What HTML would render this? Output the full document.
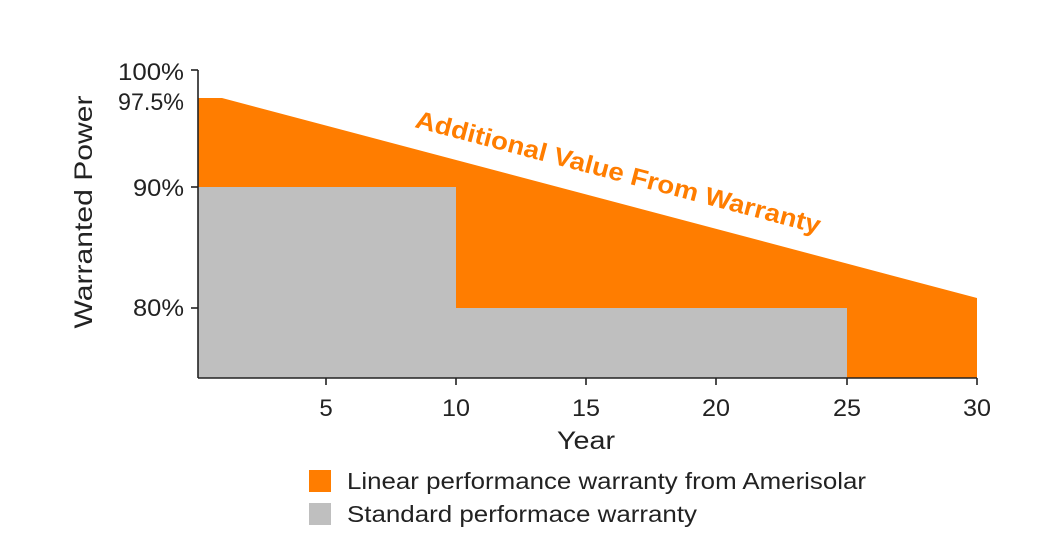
<!DOCTYPE html>
<html><head><meta charset="utf-8"><style>
html,body{margin:0;padding:0;background:#fff;}
svg{display:block;font-family:"Liberation Sans",Arial,sans-serif;}
</style></head><body>
<svg width="1050" height="550" viewBox="0 0 1050 550">
<polygon points="198,98 222,98 977,298 977,378 198,378" fill="#ff7d00"/>
<polygon points="198,187 456,187 456,308 847,308 847,378 198,378" fill="#bfbfbf"/>
<g stroke="#222" stroke-width="1.6" fill="none">
<line x1="198" y1="70" x2="198" y2="378"/>
<line x1="198" y1="378" x2="977" y2="378"/>
<line x1="191" y1="70" x2="198" y2="70"/>
<line x1="191" y1="187" x2="198" y2="187"/>
<line x1="191" y1="308" x2="198" y2="308"/>
<line x1="326" y1="378" x2="326" y2="385"/>
<line x1="456" y1="378" x2="456" y2="385"/>
<line x1="586" y1="378" x2="586" y2="385"/>
<line x1="716" y1="378" x2="716" y2="385"/>
<line x1="847" y1="378" x2="847" y2="385"/>
<line x1="977" y1="378" x2="977" y2="385"/>
</g>
<g font-size="24" fill="#222">
<text x="118" y="80" textLength="66" lengthAdjust="spacingAndGlyphs">100%</text>
<text x="118" y="110" textLength="66" lengthAdjust="spacingAndGlyphs">97.5%</text>
<text x="133" y="196" textLength="51" lengthAdjust="spacingAndGlyphs">90%</text>
<text x="133" y="316" textLength="51" lengthAdjust="spacingAndGlyphs">80%</text>
</g>
<g font-size="24" fill="#222" text-anchor="middle">
<text x="326" y="416">5</text>
<text x="456" y="416" textLength="28" lengthAdjust="spacingAndGlyphs">10</text>
<text x="586" y="416" textLength="28" lengthAdjust="spacingAndGlyphs">15</text>
<text x="716" y="416" textLength="28" lengthAdjust="spacingAndGlyphs">20</text>
<text x="847" y="416" textLength="28" lengthAdjust="spacingAndGlyphs">25</text>
<text x="977" y="416" textLength="28" lengthAdjust="spacingAndGlyphs">30</text>
<text x="586" y="449" font-size="25" textLength="58" lengthAdjust="spacingAndGlyphs">Year</text>
</g>
<text x="0" y="0" font-size="25" fill="#222" text-anchor="middle" textLength="233" lengthAdjust="spacingAndGlyphs" transform="translate(92,212) rotate(-90)">Warranted Power</text>
<text x="0" y="0" font-size="25" font-weight="bold" fill="#ff7d00" textLength="418" lengthAdjust="spacingAndGlyphs" transform="translate(414,127) rotate(14.8)">Additional Value From Warranty</text>
<rect x="309" y="470" width="22" height="22" fill="#ff7d00"/>
<rect x="309" y="503" width="22" height="22" fill="#bfbfbf"/>
<text x="347" y="489" font-size="23" fill="#222" textLength="519" lengthAdjust="spacingAndGlyphs">Linear performance warranty from Amerisolar</text>
<text x="347" y="522" font-size="23" fill="#222" textLength="350" lengthAdjust="spacingAndGlyphs">Standard performace warranty</text>
</svg>
</body></html>
